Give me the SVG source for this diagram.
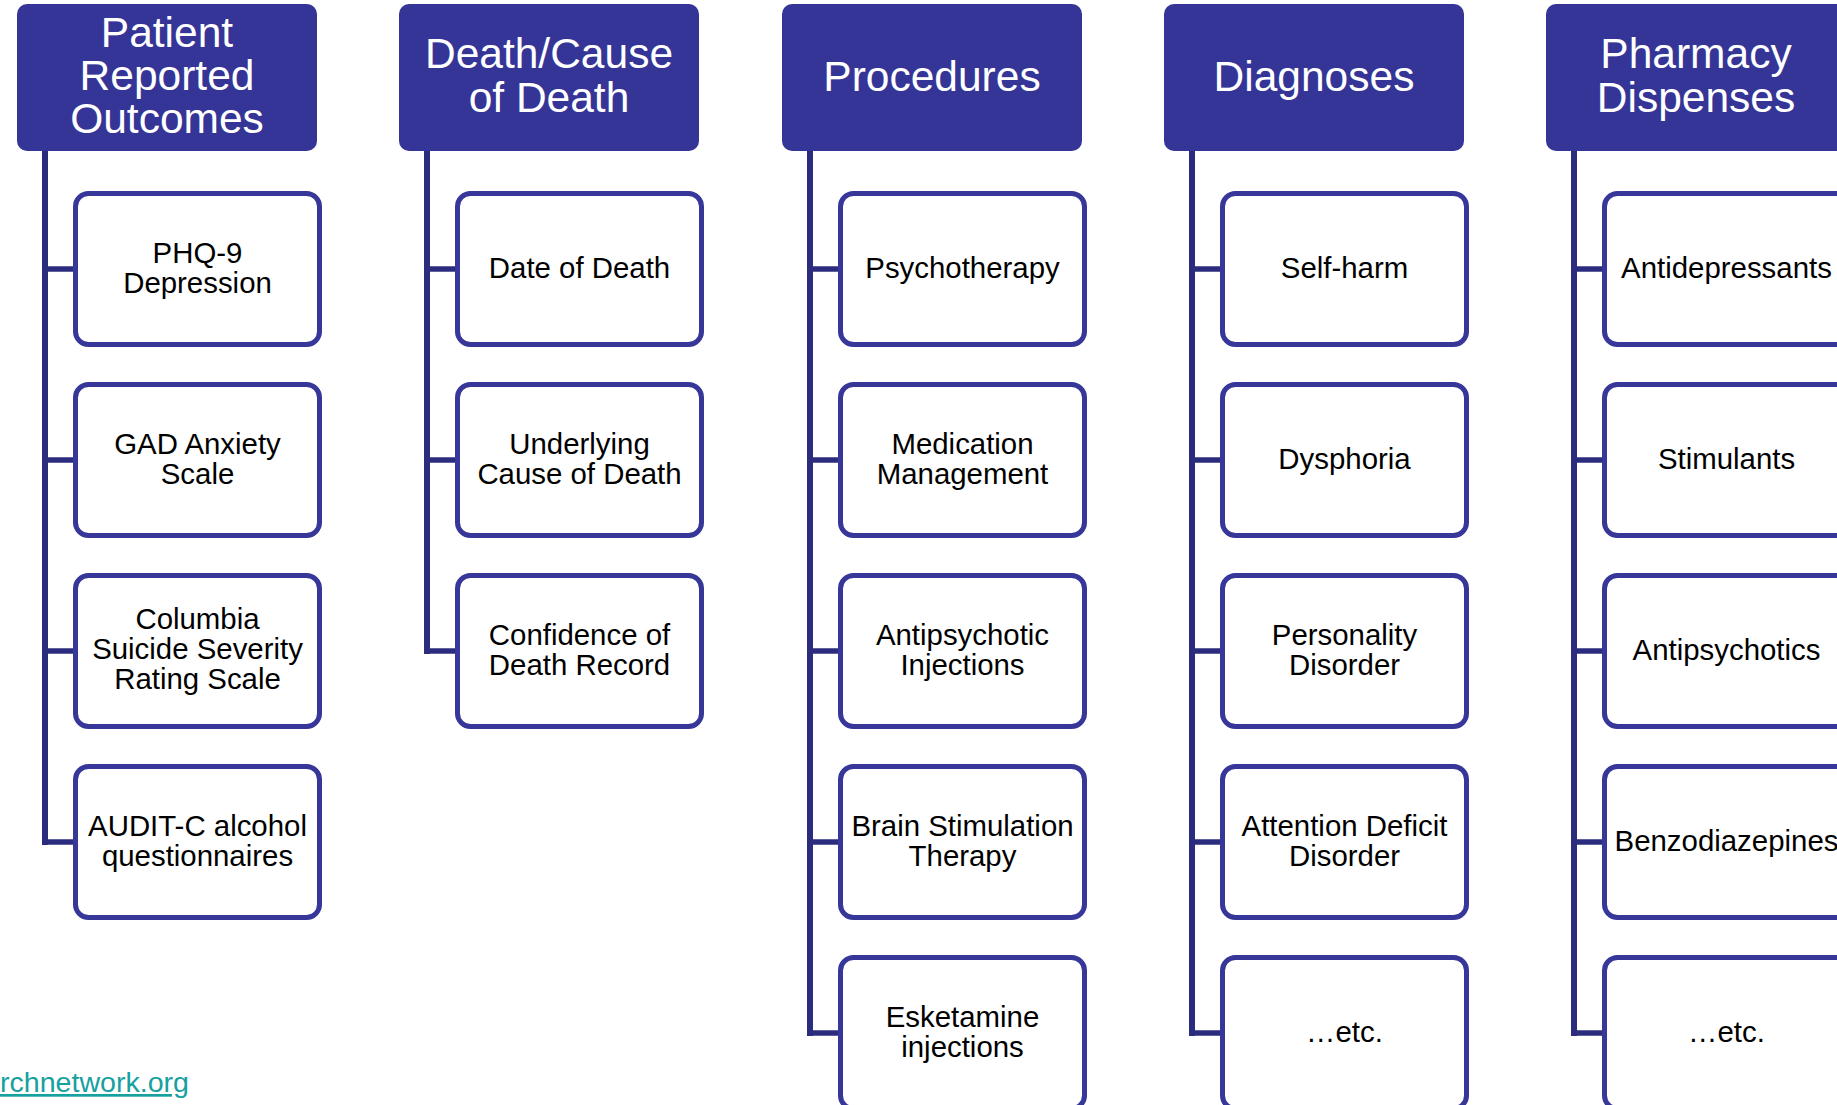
<svg xmlns="http://www.w3.org/2000/svg" width="1837" height="1105" viewBox="0 0 1837 1105">
<style>
.hdr{fill:#353597;}
.ht{fill:#ffffff;font-family:"Liberation Sans",Arial,sans-serif;font-size:42.5px;text-anchor:middle;}
.box{fill:#ffffff;stroke:#37379A;stroke-width:5;}
.bt{fill:#000000;font-family:"Liberation Sans",Arial,sans-serif;font-size:29.4px;text-anchor:middle;}
.cv{stroke:#2C2C7E;stroke-width:6;fill:none;}
.ch{stroke:#2C2C7E;stroke-width:5.5;fill:none;}
.link{fill:#17A0A0;font-family:"Liberation Sans",Arial,sans-serif;font-size:27px;text-decoration:underline;}
</style>
<rect width="1837" height="1105" fill="#ffffff"/>
<g id="connectors">
<line class="cv" x1="45" y1="151" x2="45" y2="845"/>
<line class="ch" x1="42" y1="269" x2="74" y2="269"/>
<line class="ch" x1="42" y1="460" x2="74" y2="460"/>
<line class="ch" x1="42" y1="651" x2="74" y2="651"/>
<line class="ch" x1="42" y1="842" x2="74" y2="842"/>
<line class="cv" x1="427" y1="151" x2="427" y2="654"/>
<line class="ch" x1="424" y1="269" x2="456" y2="269"/>
<line class="ch" x1="424" y1="460" x2="456" y2="460"/>
<line class="ch" x1="424" y1="651" x2="456" y2="651"/>
<line class="cv" x1="810" y1="151" x2="810" y2="1036"/>
<line class="ch" x1="807" y1="269" x2="839" y2="269"/>
<line class="ch" x1="807" y1="460" x2="839" y2="460"/>
<line class="ch" x1="807" y1="651" x2="839" y2="651"/>
<line class="ch" x1="807" y1="842" x2="839" y2="842"/>
<line class="ch" x1="807" y1="1033" x2="839" y2="1033"/>
<line class="cv" x1="1192" y1="151" x2="1192" y2="1036"/>
<line class="ch" x1="1189" y1="269" x2="1221" y2="269"/>
<line class="ch" x1="1189" y1="460" x2="1221" y2="460"/>
<line class="ch" x1="1189" y1="651" x2="1221" y2="651"/>
<line class="ch" x1="1189" y1="842" x2="1221" y2="842"/>
<line class="ch" x1="1189" y1="1033" x2="1221" y2="1033"/>
<line class="cv" x1="1574" y1="151" x2="1574" y2="1036"/>
<line class="ch" x1="1571" y1="269" x2="1603" y2="269"/>
<line class="ch" x1="1571" y1="460" x2="1603" y2="460"/>
<line class="ch" x1="1571" y1="651" x2="1603" y2="651"/>
<line class="ch" x1="1571" y1="842" x2="1603" y2="842"/>
<line class="ch" x1="1571" y1="1033" x2="1603" y2="1033"/>
</g>

<g id="h1"><rect class="hdr" x="17" y="4" width="300" height="147" rx="10"/><text class="ht" x="167" y="47">Patient</text><text class="ht" x="167" y="90">Reported</text><text class="ht" x="167" y="133">Outcomes</text></g>
<g id="h2"><rect class="hdr" x="399" y="4" width="300" height="147" rx="10"/><text class="ht" x="549" y="68">Death/Cause</text><text class="ht" x="549" y="112">of Death</text></g>
<g id="h3"><rect class="hdr" x="782" y="4" width="300" height="147" rx="10"/><text class="ht" x="932" y="91">Procedures</text></g>
<g id="h4"><rect class="hdr" x="1164" y="4" width="300" height="147" rx="10"/><text class="ht" x="1314" y="91">Diagnoses</text></g>
<g id="h5"><rect class="hdr" x="1546" y="4" width="300" height="147" rx="10"/><text class="ht" x="1696" y="68">Pharmacy</text><text class="ht" x="1696" y="112">Dispenses</text></g>

<g id="n1a"><rect class="box" x="75.5" y="193.5" width="244" height="151" rx="13"/><text class="bt" x="197.5" y="263">PHQ-9</text><text class="bt" x="197.5" y="293">Depression</text></g>
<g id="n1b"><rect class="box" x="75.5" y="384.5" width="244" height="151" rx="13"/><text class="bt" x="197.5" y="454">GAD Anxiety</text><text class="bt" x="197.5" y="484">Scale</text></g>
<g id="n1c"><rect class="box" x="75.5" y="575.5" width="244" height="151" rx="13"/><text class="bt" x="197.5" y="629">Columbia</text><text class="bt" x="197.5" y="659">Suicide Severity</text><text class="bt" x="197.5" y="689">Rating Scale</text></g>
<g id="n1d"><rect class="box" x="75.5" y="766.5" width="244" height="151" rx="13"/><text class="bt" x="197.5" y="836">AUDIT-C alcohol</text><text class="bt" x="197.5" y="866">questionnaires</text></g>

<g id="n2a"><rect class="box" x="457.5" y="193.5" width="244" height="151" rx="13"/><text class="bt" x="579.5" y="278">Date of Death</text></g>
<g id="n2b"><rect class="box" x="457.5" y="384.5" width="244" height="151" rx="13"/><text class="bt" x="579.5" y="454">Underlying</text><text class="bt" x="579.5" y="484">Cause of Death</text></g>
<g id="n2c"><rect class="box" x="457.5" y="575.5" width="244" height="151" rx="13"/><text class="bt" x="579.5" y="645">Confidence of</text><text class="bt" x="579.5" y="675">Death Record</text></g>

<g id="n3a"><rect class="box" x="840.5" y="193.5" width="244" height="151" rx="13"/><text class="bt" x="962.5" y="278">Psychotherapy</text></g>
<g id="n3b"><rect class="box" x="840.5" y="384.5" width="244" height="151" rx="13"/><text class="bt" x="962.5" y="454">Medication</text><text class="bt" x="962.5" y="484">Management</text></g>
<g id="n3c"><rect class="box" x="840.5" y="575.5" width="244" height="151" rx="13"/><text class="bt" x="962.5" y="645">Antipsychotic</text><text class="bt" x="962.5" y="675">Injections</text></g>
<g id="n3d"><rect class="box" x="840.5" y="766.5" width="244" height="151" rx="13"/><text class="bt" x="962.5" y="836">Brain Stimulation</text><text class="bt" x="962.5" y="866">Therapy</text></g>
<g id="n3e"><rect class="box" x="840.5" y="957.5" width="244" height="151" rx="13"/><text class="bt" x="962.5" y="1027">Esketamine</text><text class="bt" x="962.5" y="1057">injections</text></g>

<g id="n4a"><rect class="box" x="1222.5" y="193.5" width="244" height="151" rx="13"/><text class="bt" x="1344.5" y="278">Self-harm</text></g>
<g id="n4b"><rect class="box" x="1222.5" y="384.5" width="244" height="151" rx="13"/><text class="bt" x="1344.5" y="469">Dysphoria</text></g>
<g id="n4c"><rect class="box" x="1222.5" y="575.5" width="244" height="151" rx="13"/><text class="bt" x="1344.5" y="645">Personality</text><text class="bt" x="1344.5" y="675">Disorder</text></g>
<g id="n4d"><rect class="box" x="1222.5" y="766.5" width="244" height="151" rx="13"/><text class="bt" x="1344.5" y="836">Attention Deficit</text><text class="bt" x="1344.5" y="866">Disorder</text></g>
<g id="n4e"><rect class="box" x="1222.5" y="957.5" width="244" height="151" rx="13"/><text class="bt" x="1344.5" y="1042">…etc.</text></g>

<g id="n5a"><rect class="box" x="1604.5" y="193.5" width="244" height="151" rx="13"/><text class="bt" x="1726.5" y="278">Antidepressants</text></g>
<g id="n5b"><rect class="box" x="1604.5" y="384.5" width="244" height="151" rx="13"/><text class="bt" x="1726.5" y="469">Stimulants</text></g>
<g id="n5c"><rect class="box" x="1604.5" y="575.5" width="244" height="151" rx="13"/><text class="bt" x="1726.5" y="660">Antipsychotics</text></g>
<g id="n5d"><rect class="box" x="1604.5" y="766.5" width="244" height="151" rx="13"/><text class="bt" x="1726.5" y="851">Benzodiazepines</text></g>
<g id="n5e"><rect class="box" x="1604.5" y="957.5" width="244" height="151" rx="13"/><text class="bt" x="1726.5" y="1042">…etc.</text></g>

<g id="link"><text class="link" x="0" y="1092" textLength="189" lengthAdjust="spacingAndGlyphs">rchnetwork.org</text></g>
</svg>
